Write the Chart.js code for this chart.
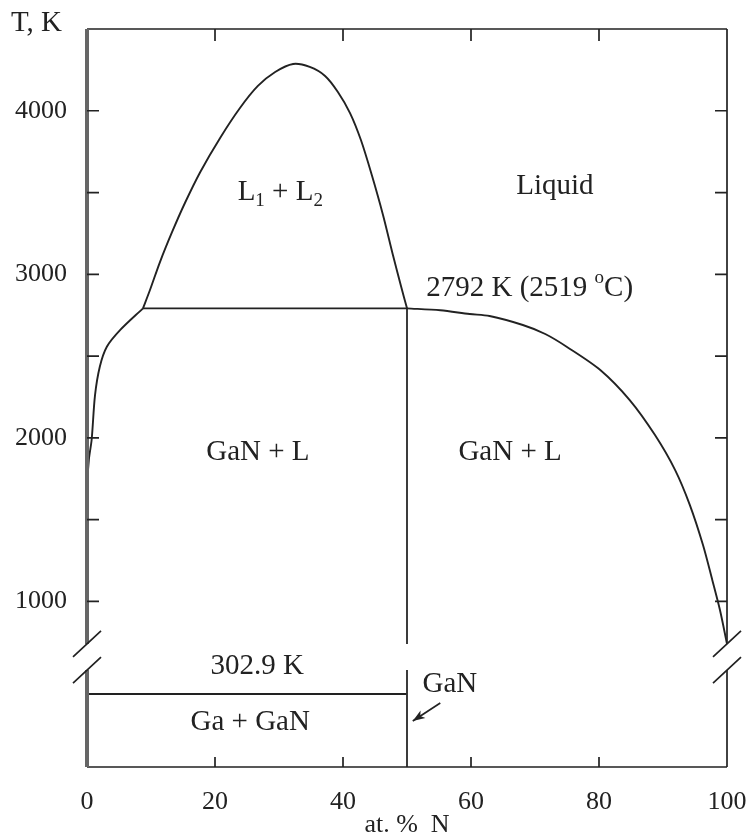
<!DOCTYPE html>
<html>
<head>
<meta charset="utf-8">
<script src="https://cdn.jsdelivr.net/npm/chart.js@4.4.1/dist/chart.umd.min.js"></script>
<style>
  html, body { margin: 0; padding: 0; background: #fff; }
  #wrap { width: 752px; height: 836px; }
</style>
</head>
<body>
<div id="wrap"><canvas id="phase"></canvas></div>
<script>
// Ga–N phase diagram, T (K) against at.% N, temperature axis broken below ~700 K

// liquidus on the Ga-rich side, up to the monotectic point
const gaLiquidusN = [0.05, 0.06, 0.1, 0.3, 0.73, 1.25, 2.0, 3.1, 5.2, 8.75];
const gaLiquidusT = [740, 1500, 1750, 1870, 1990, 2260, 2435, 2557, 2660, 2792];

// L1 + L2 miscibility dome
const gapN = [8.75, 9.84, 11.4, 13.3, 15.3, 17.7, 20.8, 23.9, 26.7, 29.4, 32.2,
              34.8, 37.2, 39.2, 41.1, 42.8, 44.5, 46.25, 47.8, 49.1, 50];
const gapT = [2792, 2904, 3075, 3259, 3436, 3626, 3834, 4017, 4152, 4237, 4286,
              4268, 4213, 4115, 3986, 3821, 3607, 3363, 3118, 2922, 2792];

// liquidus on the N-rich side
const nLiquidusN = [50, 55.2, 59.8, 62.9, 68.1, 71.6, 75, 80.2, 84.8, 88.75, 91.9, 94.2, 96.25, 97.7, 98.9, 100];
const nLiquidusT = [2792, 2780, 2757, 2745, 2690, 2635, 2556, 2415, 2231, 2017, 1803, 1589, 1345, 1131, 947, 740];

const monotecticN = [8.75, 50];
const monotecticT = 2792;
const ganN = 50;
const gaMeltT = 302.9;

// axis ranges either side of the break
const upperRange = [660, 4500];
const lowerRange = [0, 456];
const breakHighT = 740;   // where the upper part stops
const breakLowT = 402;    // where the lower part starts

const xTicks = [20, 40, 60, 80];
const tTicks = [1000, 1500, 2000, 2500, 3000, 3500, 4000];
const tLabels = [1000, 2000, 3000, 4000];

const INK = '#222';
const SERIF = '"Liberation Serif", "Times New Roman", serif';

function seg(xs, ys, axis) {
  return {
    data: xs.map((v, i) => ({ x: v, y: Array.isArray(ys) ? ys[i] : ys })),
    yAxisID: axis,
    showLine: true,
    pointRadius: 0,
    borderColor: INK,
    borderWidth: 1.9,
    tension: 0.3
  };
}

// region labels, placed in data coordinates
const regionLabels = [
  { text: 'Liquid', n: 73.1, t: 3540, axis: 'y' },
  { text: 'GaN + L', n: 26.7, t: 1913, axis: 'y' },
  { text: 'GaN + L', n: 66.1, t: 1913, axis: 'y' },
  { text: '302.9 K', n: 26.6, t: 415, axis: 'y2' },
  { text: 'Ga + GaN', n: 25.5, t: 183, axis: 'y2' },
  { text: 'GaN', n: 56.7, t: 344, axis: 'y2' }
];

const frame = {
  id: 'frame',
  afterDatasetsDraw(chart) {
    const { ctx, chartArea: a, scales: { x, y, y2 } } = chart;
    const cutTop = y.getPixelForValue(breakHighT);
    const cutBot = y2.getPixelForValue(breakLowT);
    ctx.save();
    ctx.lineCap = 'butt';

    // box: top, bottom, right
    ctx.strokeStyle = INK;
    ctx.lineWidth = 1.7;
    ctx.beginPath();
    ctx.moveTo(a.left, a.top); ctx.lineTo(a.right, a.top);
    ctx.moveTo(a.left, a.bottom); ctx.lineTo(a.right, a.bottom);
    ctx.moveTo(a.right, a.top); ctx.lineTo(a.right, cutTop);
    ctx.moveTo(a.right, cutBot); ctx.lineTo(a.right, a.bottom);
    ctx.stroke();

    // left edge is the heavy grey Ga line
    ctx.strokeStyle = '#666';
    ctx.lineWidth = 4;
    ctx.beginPath();
    ctx.moveTo(a.left, a.top); ctx.lineTo(a.left, cutTop);
    ctx.moveTo(a.left, cutBot); ctx.lineTo(a.left, a.bottom);
    ctx.stroke();

    // inward ticks
    ctx.strokeStyle = INK;
    ctx.lineWidth = 1.7;
    ctx.beginPath();
    xTicks.forEach(v => {
      const px = x.getPixelForValue(v);
      ctx.moveTo(px, a.top); ctx.lineTo(px, a.top + 12);
      ctx.moveTo(px, a.bottom); ctx.lineTo(px, a.bottom - 10);
    });
    tTicks.forEach(v => {
      const py = y.getPixelForValue(v);
      ctx.moveTo(a.left, py); ctx.lineTo(a.left + 12, py);
      ctx.moveTo(a.right, py); ctx.lineTo(a.right - 12, py);
    });
    ctx.stroke();

    // break marks
    ctx.beginPath();
    [a.left, a.right].forEach(px => {
      [cutTop, cutBot].forEach(py => {
        ctx.moveTo(px - 14, py + 13); ctx.lineTo(px + 14, py - 13);
      });
    });
    ctx.stroke();

    // labels
    const big = '29px ' + SERIF, small = '19px ' + SERIF;
    ctx.fillStyle = INK;
    ctx.textBaseline = 'middle';
    ctx.font = big;
    ctx.textAlign = 'left';
    ctx.fillText('T, K', 11, 23);

    ctx.textAlign = 'center';
    regionLabels.forEach(l => {
      ctx.fillText(l.text, x.getPixelForValue(l.n), chart.scales[l.axis].getPixelForValue(l.t));
    });

    // L1 + L2 with subscripts
    const parts = [['L', 0], ['1', 1], [' + L', 0], ['2', 1]];
    let w = 0;
    parts.forEach(p => { ctx.font = p[1] ? small : big; w += ctx.measureText(p[0]).width; });
    let cx = x.getPixelForValue(30.2) - w / 2;
    const cy = y.getPixelForValue(3503);
    ctx.textAlign = 'left';
    parts.forEach(p => {
      ctx.font = p[1] ? small : big;
      ctx.fillText(p[0], cx, p[1] ? cy + 9 : cy);
      cx += ctx.measureText(p[0]).width;
    });

    // monotectic temperature with degree mark
    let tx = x.getPixelForValue(53);
    const ty = y.getPixelForValue(2916);
    ctx.font = big;
    ctx.fillText('2792 K (2519 ', tx, ty);
    tx += ctx.measureText('2792 K (2519 ').width;
    ctx.font = small;
    ctx.fillText('o', tx, ty - 10);
    tx += ctx.measureText('o').width;
    ctx.font = big;
    ctx.fillText('C)', tx, ty);

    // arrow pointing at the GaN line
    const x0 = x.getPixelForValue(55.2), y0 = y2.getPixelForValue(265);
    const x1 = x.getPixelForValue(50.9), y1 = y2.getPixelForValue(191);
    const ang = Math.atan2(y1 - y0, x1 - x0);
    ctx.beginPath();
    ctx.moveTo(x0, y0); ctx.lineTo(x1, y1);
    ctx.stroke();
    ctx.beginPath();
    ctx.moveTo(x1, y1);
    ctx.lineTo(x1 - 13 * Math.cos(ang - 0.35), y1 - 13 * Math.sin(ang - 0.35));
    ctx.lineTo(x1 - 9 * Math.cos(ang), y1 - 9 * Math.sin(ang));
    ctx.lineTo(x1 - 13 * Math.cos(ang + 0.35), y1 - 13 * Math.sin(ang + 0.35));
    ctx.closePath();
    ctx.fill();

    ctx.restore();
  }
};

const tickFont = { family: SERIF, size: 26 };

new Chart(document.getElementById('phase'), {
  type: 'scatter',
  data: {
    datasets: [
      seg(gaLiquidusN, gaLiquidusT, 'y'),
      seg(gapN, gapT, 'y'),
      seg(nLiquidusN, nLiquidusT, 'y'),
      seg(monotecticN, monotecticT, 'y'),
      Object.assign(seg([ganN, ganN], [monotecticT, breakHighT], 'y'), { borderColor: '#333', tension: 0 }),
      Object.assign(seg([ganN, ganN], [breakLowT, 0], 'y2'), { borderColor: '#333', tension: 0 }),
      Object.assign(seg([0, ganN], gaMeltT, 'y2'), { tension: 0 })
    ]
  },
  options: {
    responsive: true,
    maintainAspectRatio: false,
    animation: false,
    layout: { padding: { top: 29, right: 25, left: 0, bottom: 0 } },
    plugins: { legend: { display: false }, tooltip: { enabled: false } },
    scales: {
      x: {
        type: 'linear', min: 0, max: 100,
        ticks: { stepSize: 20, autoSkip: false, maxRotation: 0, font: tickFont, color: INK, padding: 20 },
        grid: { display: false, drawTicks: false },
        border: { display: false },
        title: { display: true, text: 'at. %  N', font: tickFont, color: INK, padding: { top: 0, bottom: -5 } },
        afterFit: s => { s.height = 69; s.paddingLeft = 0; s.paddingRight = 0; }
      },
      y2: {
        type: 'linear', position: 'left', stack: 'T', stackWeight: 110,
        min: lowerRange[0], max: lowerRange[1],
        ticks: { display: false },
        grid: { display: false, drawTicks: false },
        border: { display: false },
        afterFit: s => { s.width = 87; s.paddingTop = 0; s.paddingBottom = 0; }
      },
      y: {
        type: 'linear', position: 'left', stack: 'T', stackWeight: 628,
        min: upperRange[0], max: upperRange[1],
        afterBuildTicks: s => { s.ticks = tLabels.map(v => ({ value: v })); },
        ticks: { autoSkip: false, font: tickFont, color: INK, padding: 20, callback: v => String(v) },
        grid: { display: false, drawTicks: false },
        border: { display: false },
        afterFit: s => { s.width = 87; s.paddingTop = 0; s.paddingBottom = 0; }
      }
    }
  },
  plugins: [frame]
});
</script>
</body>
</html>
